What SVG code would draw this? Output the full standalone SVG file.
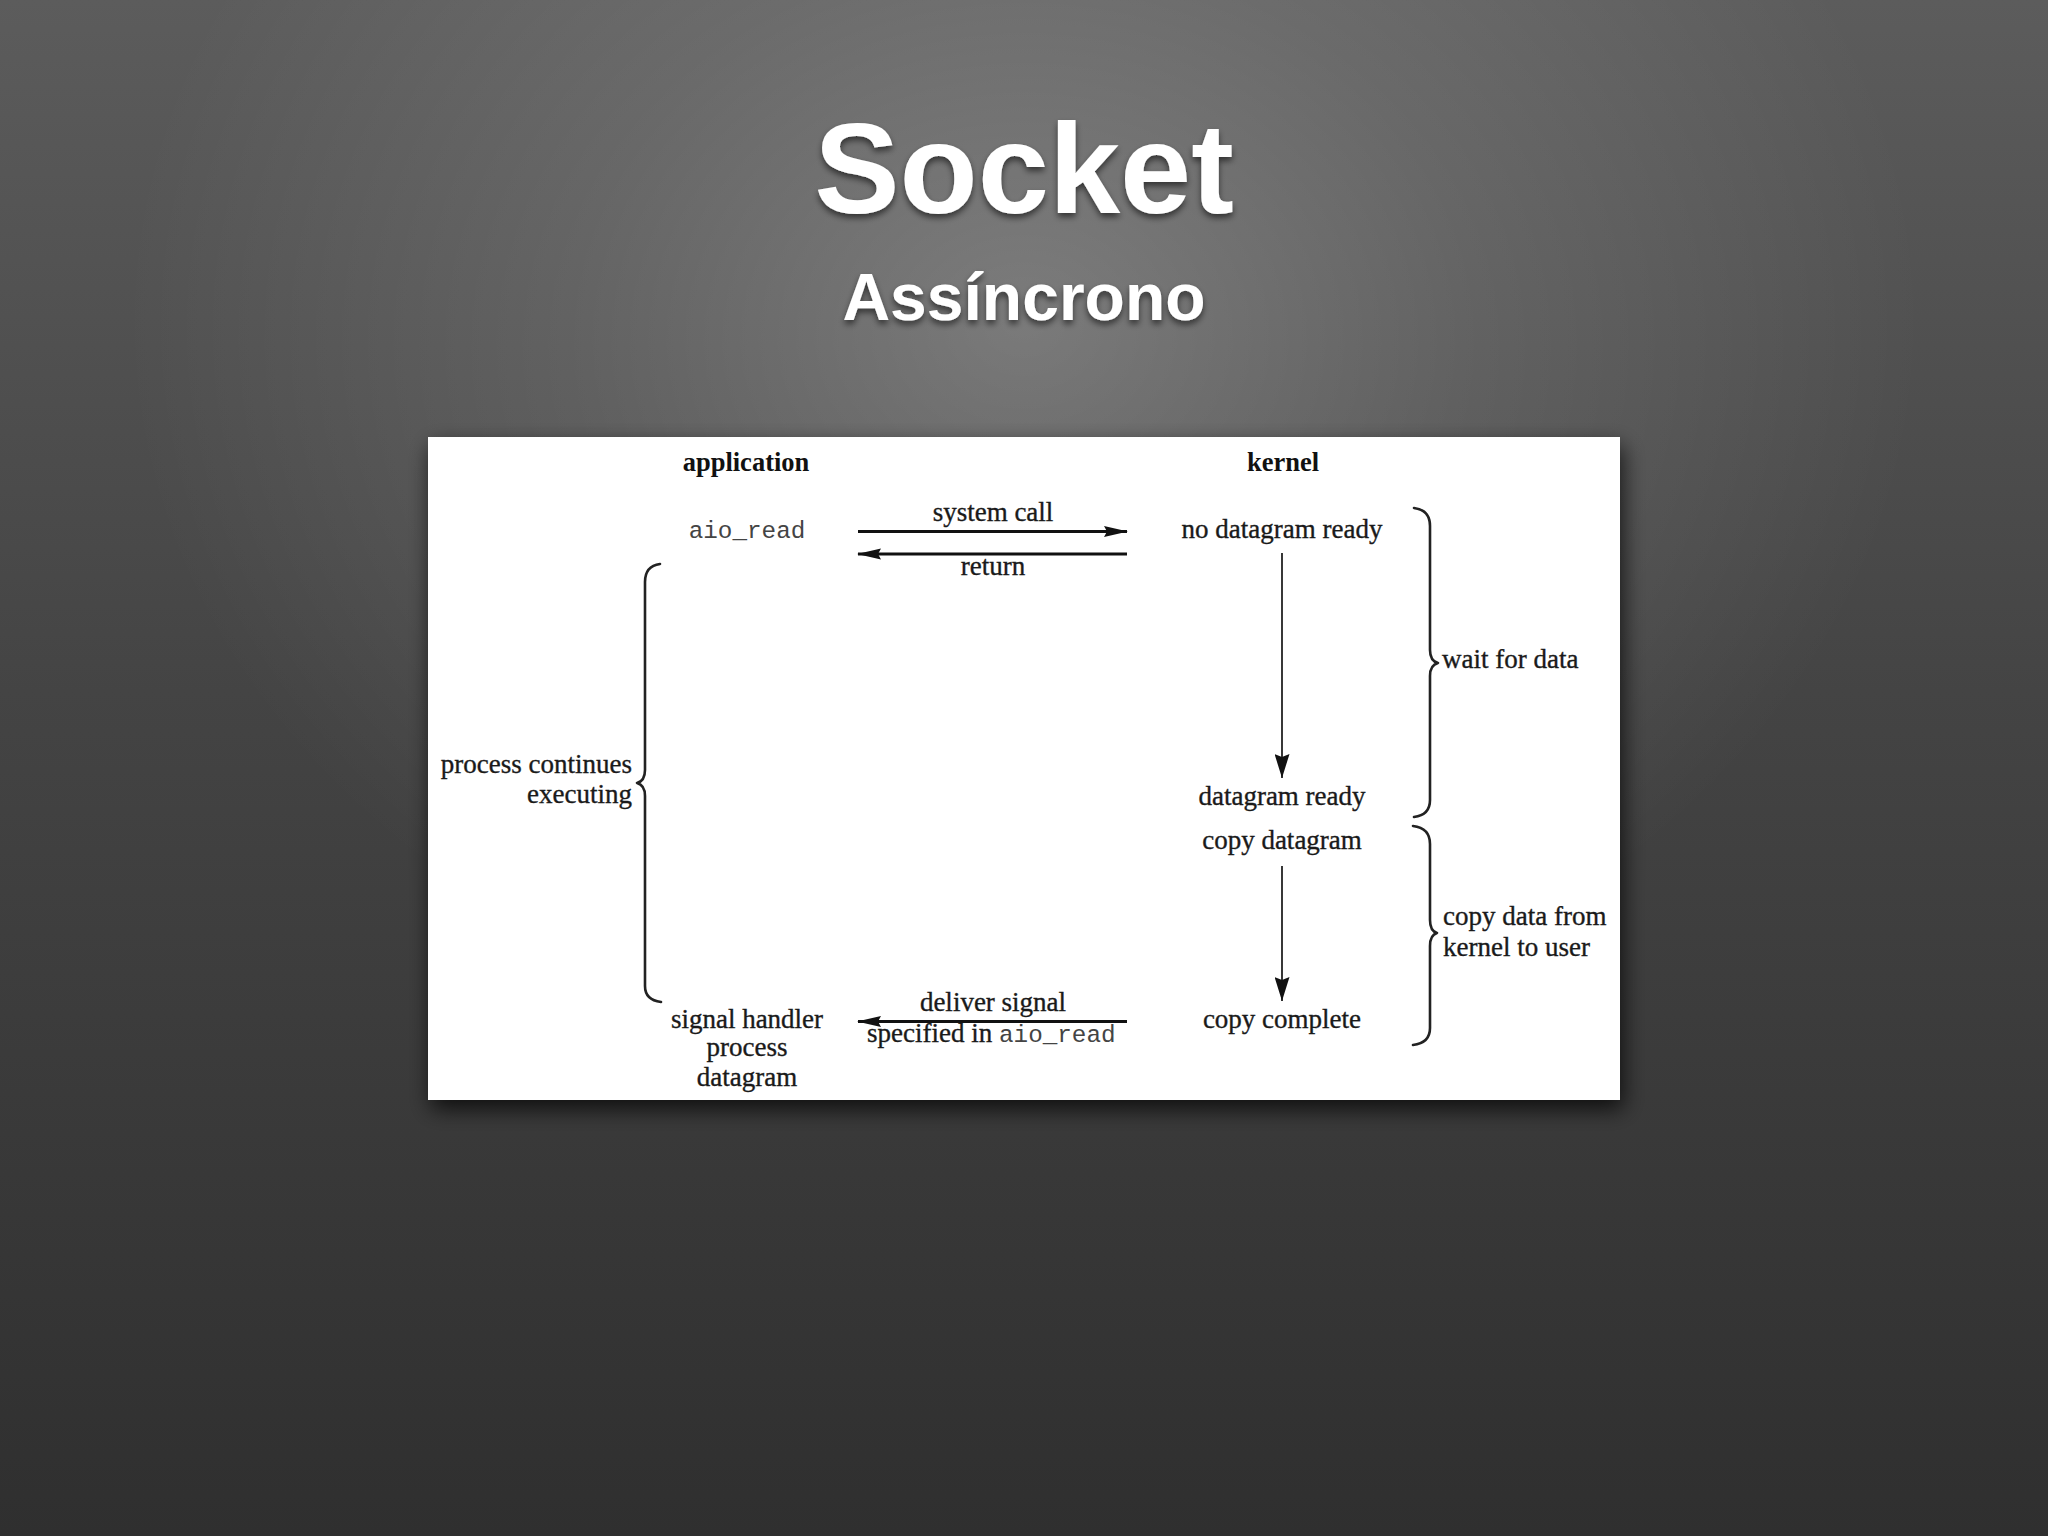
<svg xmlns="http://www.w3.org/2000/svg" width="2048" height="1536" viewBox="0 0 2048 1536">
  <defs>
    <linearGradient id="bgLin" x1="0" y1="0" x2="0" y2="1536" gradientUnits="userSpaceOnUse">
      <stop offset="0" stop-color="#5c5c5c"/>
      <stop offset="0.45" stop-color="#444444"/>
      <stop offset="1" stop-color="#2f2f2f"/>
    </linearGradient>
    <radialGradient id="bgRad" cx="1024" cy="320" r="820" gradientUnits="userSpaceOnUse" gradientTransform="translate(1024 320) scale(1.1 0.9) translate(-1024 -320)">
      <stop offset="0" stop-color="#ffffff" stop-opacity="0.24"/>
      <stop offset="0.5" stop-color="#ffffff" stop-opacity="0.1"/>
      <stop offset="1" stop-color="#ffffff" stop-opacity="0"/>
    </radialGradient>
    <filter id="titleShadow" x="-10%" y="-20%" width="120%" height="150%">
      <feDropShadow dx="0" dy="4" stdDeviation="3" flood-color="#000" flood-opacity="0.55"/>
    </filter>
    <filter id="boxShadow" x="-5%" y="-5%" width="110%" height="115%">
      <feDropShadow dx="3" dy="9" stdDeviation="11" flood-color="#000" flood-opacity="0.75"/>
    </filter>
    <marker id="ah" viewBox="0 0 24 12" refX="23" refY="6" markerWidth="24" markerHeight="12" markerUnits="userSpaceOnUse" orient="auto">
      <path d="M0,0.5 L24,6 L0,11.5 L3,6 z" fill="#111"/>
    </marker>
    <marker id="av" viewBox="0 0 24 15" refX="24" refY="7.5" markerWidth="24" markerHeight="15" markerUnits="userSpaceOnUse" orient="auto">
      <path d="M0,0 L24,7.5 L0,15 L3,7.5 z" fill="#111"/>
    </marker>
    <style>
      .title { font-family: "Liberation Sans", Arial, sans-serif; font-weight: bold; fill: #ffffff; text-anchor: middle; }
      .t { font-family: "Liberation Serif", "Times New Roman", serif; font-size: 27px; fill: #1a1a1a; stroke: #1a1a1a; stroke-width: 0.35; }
      .b { font-family: "Liberation Serif", "Times New Roman", serif; font-size: 26.5px; font-weight: bold; fill: #111; text-anchor: middle; }
      .m { font-family: "Liberation Mono", "Courier New", monospace; font-size: 24.3px; fill: #444; stroke: none; }
      .c { text-anchor: middle; }
      .r { text-anchor: end; }
      .hl { stroke: #111; stroke-width: 3; fill: none; }
      .vl { stroke: #222; stroke-width: 1.8; fill: none; }
      .brace { stroke: #222; stroke-width: 2.6; fill: none; stroke-linecap: round; stroke-linejoin: round; }
    </style>
  </defs>

  <rect x="0" y="0" width="2048" height="1536" fill="url(#bgLin)"/>
  <rect x="0" y="0" width="2048" height="1536" fill="url(#bgRad)"/>

  <g id="title" filter="url(#titleShadow)">
    <text class="title" x="1024" y="213" font-size="128">Socket</text>
    <text class="title" x="1024" y="320" font-size="66">Assíncrono</text>
  </g>

  <rect id="panel" x="428" y="437" width="1192" height="663" fill="#ffffff" filter="url(#boxShadow)"/>

  <g id="headers">
    <text class="b" x="746" y="471">application</text>
    <text class="b" x="1283" y="471">kernel</text>
  </g>

  <g id="node-aio-read">
    <text class="m c" x="747" y="538">aio_read</text>
  </g>

  <g id="node-no-datagram">
    <text class="t c" x="1282" y="538">no datagram ready</text>
  </g>

  <g id="node-datagram-ready">
    <text class="t c" x="1282" y="805">datagram ready</text>
  </g>

  <g id="node-copy-datagram">
    <text class="t c" x="1282" y="849">copy datagram</text>
  </g>

  <g id="node-copy-complete">
    <text class="t c" x="1282" y="1028">copy complete</text>
  </g>

  <g id="node-signal-handler">
    <text class="t c" x="747" y="1028">signal handler</text>
    <text class="t c" x="747" y="1056">process</text>
    <text class="t c" x="747" y="1086">datagram</text>
  </g>

  <g id="brace-process">
    <path class="brace" d="M660,564 Q645,566 645,582 L645,770 Q645,781 637,783 Q645,785 645,796 L645,986 Q645,1000 661,1002"/>
    <text class="t r" x="632" y="773">process continues</text>
    <text class="t r" x="632" y="803">executing</text>
  </g>

  <g id="brace-wait">
    <path class="brace" d="M1414,508 Q1430,510 1430,526 L1430,650 Q1430,661 1438,663 Q1430,665 1430,676 L1430,800 Q1430,815 1414,817"/>
    <text class="t" x="1442" y="668">wait for data</text>
  </g>

  <g id="brace-copy">
    <path class="brace" d="M1413,826 Q1430,828 1430,844 L1430,920 Q1430,931 1437,933 Q1430,935 1430,946 L1430,1028 Q1430,1043 1413,1045"/>
    <text class="t" x="1443" y="925">copy data from</text>
    <text class="t" x="1443" y="956">kernel to user</text>
  </g>

  <g id="connectors">
    <line class="hl" x1="858" y1="531.5" x2="1127" y2="531.5" marker-end="url(#ah)"/>
    <text class="t c" x="993" y="521">system call</text>
    <line class="hl" x1="1127" y1="554" x2="858" y2="554" marker-end="url(#ah)"/>
    <text class="t c" x="993" y="575">return</text>
    <line class="vl" x1="1282" y1="553" x2="1282" y2="778" marker-end="url(#av)"/>
    <line class="vl" x1="1282" y1="866" x2="1282" y2="1001" marker-end="url(#av)"/>
    <line class="hl" x1="1127" y1="1021.5" x2="858" y2="1021.5" marker-end="url(#ah)"/>
    <text class="t c" x="993" y="1011">deliver signal</text>
    <text class="t" x="867" y="1042">specified in <tspan class="m">aio_read</tspan></text>
  </g>
</svg>
